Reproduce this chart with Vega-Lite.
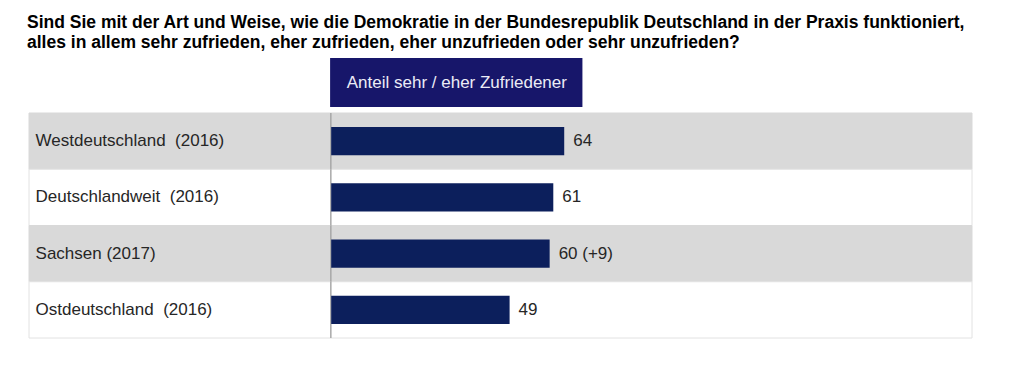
{
  "$schema": "https://vega.github.io/schema/vega-lite/v6.json",
  "padding": {"left": 27, "top": 13, "right": 42, "bottom": 29},
  "background": "white",
  "title": {
    "text": ["Sind Sie mit der Art und Weise, wie die Demokratie in der Bundesrepublik Deutschland in der Praxis funktioniert,", "alles in allem sehr zufrieden, eher zufrieden, eher unzufrieden oder sehr unzufrieden?"],
    "anchor": "start", "frame": "group", "font": "Liberation Sans", "fontSize": 17.5, "fontWeight": "bold",
    "color": "#000000", "lineHeight": 20, "offset": 7, "dx": -2
  },
  "datasets": {
    "rows": [
      {"region": "Westdeutschland\u00a0 (2016)", "value": 64, "label": "64"},
      {"region": "Deutschlandweit\u00a0 (2016)", "value": 61, "label": "61"},
      {"region": "Sachsen (2017)", "value": 60, "label": "60 (+9)"},
      {"region": "Ostdeutschland\u00a0 (2016)", "value": 49, "label": "49"}
    ],
    "header": [{"header": "Anteil sehr / eher Zufriedener"}]
  },
  "spacing": 5,
  "vconcat": [
    {
      "width": 943, "height": 49,
      "data": {"name": "header"},
      "layer": [
        {
          "mark": {"type": "rect", "color": "#17166a"},
          "encoding": {
            "x": {"datum": -0.3, "type": "quantitative", "scale": {"domain": [-83, 176], "nice": false, "zero": false}, "axis": null},
            "x2": {"datum": 69}
          }
        },
        {
          "mark": {"type": "text", "color": "#ececf6", "font": "Liberation Sans", "fontSize": 17},
          "encoding": {
            "x": {"datum": 34.5, "type": "quantitative", "scale": {"domain": [-83, 176], "nice": false, "zero": false}, "axis": null},
            "text": {"field": "header"}
          }
        }
      ]
    },
    {
      "width": 943, "height": 225,
      "data": {"name": "rows"},
      "encoding": {
        "y": {"field": "region", "type": "nominal", "sort": null, "axis": null, "scale": {"paddingInner": 0, "paddingOuter": 0}}
      },
      "layer": [
        {
          "mark": {"type": "rect", "strokeWidth": 1},
          "encoding": {
            "fill": {"condition": {"test": "datum.region === 'Sachsen (2017)' || indexof(datum.region, 'Westdeutschland') === 0", "value": "#d9d9d9"}, "value": "#ffffff"},
            "stroke": {"condition": {"test": "datum.region === 'Sachsen (2017)' || indexof(datum.region, 'Westdeutschland') === 0", "value": "#d9d9d9"}, "value": "#e2e2e2"}
          }
        },
        {
          "mark": {"type": "rect", "color": "#a6a6a6"},
          "encoding": {
            "x": {"datum": -0.3, "type": "quantitative", "scale": {"domain": [-83, 176], "nice": false, "zero": false}, "axis": null},
            "x2": {"datum": 0.1}
          }
        },
        {
          "mark": {"type": "bar", "color": "#0c1f5c", "height": {"band": 0.5}},
          "encoding": {
            "x": {"field": "value", "type": "quantitative", "scale": {"domain": [-83, 176], "nice": false, "zero": false}, "axis": null}
          }
        },
        {
          "mark": {"type": "text", "align": "left", "dx": 9, "font": "Liberation Sans", "fontSize": 17, "color": "#262626"},
          "encoding": {
            "x": {"field": "value", "type": "quantitative"},
            "text": {"field": "label"}
          }
        },
        {
          "mark": {"type": "text", "align": "left", "font": "Liberation Sans", "fontSize": 17, "color": "#262626"},
          "encoding": {
            "x": {"datum": -81.2, "type": "quantitative"},
            "text": {"field": "region"}
          }
        }
      ]
    }
  ],
  "config": {"view": {"stroke": null}}
}
